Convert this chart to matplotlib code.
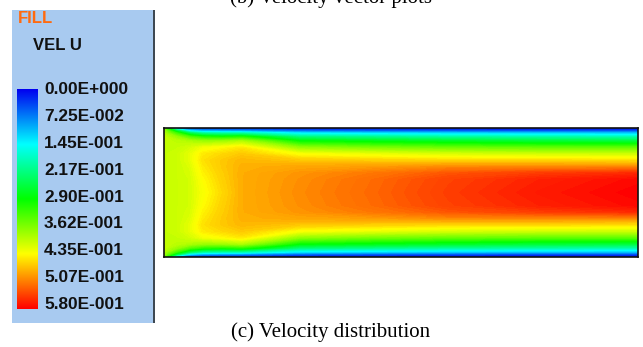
import matplotlib
matplotlib.use('Agg')
import matplotlib.pyplot as plt
import numpy as np
from matplotlib.colors import LinearSegmentedColormap
from matplotlib.patches import Rectangle

# legend labels (top -> bottom)
legend_values = [0.0, 0.0725, 0.145, 0.2175, 0.29, 0.3625, 0.435, 0.5075, 0.58]
legend_labels = ['0.00E+000', '7.25E-002', '1.45E-001', '2.17E-001', '2.90E-001',
                 '3.62E-001', '4.35E-001', '5.07E-001', '5.80E-001']

# velocity U: stations along the channel (in channel heights)
x_stations = [0.0, 0.1, 0.2, 0.3, 0.45, 0.6, 1.05, 1.6, 2.2, 2.9, 3.67]
# distance from the wall (fraction of channel height), wall -> centreline
wall_dist = [0.0, 0.02, 0.04, 0.07, 0.1, 0.15, 0.2, 0.25, 0.3, 0.35, 0.4, 0.5]
u_half = [
    [0.34, 0.38, 0.39, 0.40, 0.40, 0.40, 0.40, 0.40, 0.40, 0.40, 0.40, 0.40],
    [0.05, 0.24, 0.32, 0.375, 0.395, 0.40, 0.405, 0.405, 0.405, 0.405, 0.405, 0.405],
    [0.0, 0.12, 0.24, 0.335, 0.385, 0.41, 0.42, 0.42, 0.415, 0.412, 0.41, 0.41],
    [0.0, 0.09, 0.20, 0.31, 0.375, 0.425, 0.445, 0.45, 0.445, 0.44, 0.435, 0.43],
    [0.0, 0.08, 0.19, 0.30, 0.375, 0.435, 0.455, 0.465, 0.465, 0.462, 0.46, 0.455],
    [0.0, 0.075, 0.19, 0.31, 0.385, 0.445, 0.465, 0.475, 0.478, 0.48, 0.48, 0.48],
    [0.0, 0.05, 0.135, 0.22, 0.285, 0.37, 0.43, 0.465, 0.485, 0.495, 0.498, 0.50],
    [0.0, 0.045, 0.125, 0.21, 0.275, 0.355, 0.42, 0.46, 0.49, 0.51, 0.518, 0.52],
    [0.0, 0.04, 0.12, 0.20, 0.265, 0.345, 0.41, 0.455, 0.50, 0.53, 0.542, 0.545],
    [0.0, 0.035, 0.115, 0.195, 0.255, 0.34, 0.405, 0.455, 0.50, 0.545, 0.56, 0.565],
    [0.0, 0.035, 0.11, 0.19, 0.25, 0.34, 0.405, 0.45, 0.50, 0.555, 0.575, 0.58],
]

W, H = 643, 347
fig = plt.figure(figsize=(W / 100, H / 100), dpi=100)

def box(x0, y0, x1, y1):
    # pixel box -> figure fraction [left, bottom, width, height]
    return [x0 / W, 1 - y1 / H, (x1 - x0) / W, (y1 - y0) / H]

cmap = LinearSegmentedColormap.from_list(
    'vel', ['#0000f0', '#00ffff', '#00ff00', '#ffff00', '#ff0000'])
vmin, vmax = legend_values[0], legend_values[-1]

# legend panel (behind the axes)
b = box(12, 10, 155, 323)
fig.patches.append(Rectangle((b[0], b[1]), b[2], b[3], transform=fig.transFigure,
                             facecolor='#a8caf0', edgecolor='none', zorder=-2))
b = box(153, 10, 155, 323)
fig.patches.append(Rectangle((b[0], b[1]), b[2], b[3], transform=fig.transFigure,
                             facecolor='#3e4852', edgecolor='none', zorder=-1))

fig.text(18 / W, 1 - 18.5 / H, 'FILL', color='#ff6a10', fontsize=12,
         family='Liberation Sans', fontweight='bold', va='center', ha='left')
fig.text(33 / W, 1 - 46 / H, 'VEL U', color='#111111', fontsize=12,
         family='Liberation Sans', fontweight='bold', va='center', ha='left')

# colour bar
cax = fig.add_axes(box(17, 89, 38, 309))
grad = np.linspace(vmin, vmax, 256).reshape(-1, 1)
cax.imshow(grad, cmap=cmap, vmin=vmin, vmax=vmax, aspect='auto',
           extent=[0, 1, vmax, vmin])
cax.set_ylim(vmax, vmin)
cax.set_xticks([])
cax.set_yticks([])
for s in cax.spines.values():
    s.set_visible(False)

# labels next to the bar
lax = fig.add_axes(box(30, 88, 38, 303))
lax.set_ylim(vmax, vmin)
lax.set_xticks([])
lax.yaxis.tick_right()
lax.set_yticks(legend_values)
lax.set_yticklabels(legend_labels, fontsize=12.4, family='Liberation Sans',
                    fontweight='bold', color='#111111')
lax.tick_params(axis='y', length=0, pad=4.3)
lax.patch.set_visible(False)
for s in lax.spines.values():
    s.set_visible(False)

# velocity field
ax = fig.add_axes(box(164, 128, 638, 257))
xs = np.array(x_stations)
d = np.array(wall_dist)
u = np.array(u_half)
ys = np.concatenate([d, 1 - d[-2::-1]])
uu = np.concatenate([u, u[:, -2::-1]], axis=1)
X, Y = np.meshgrid(xs, ys, indexing='ij')
ax.contourf(X, Y, uu, levels=np.linspace(vmin, vmax + 0.001, 140), cmap=cmap,
            vmin=vmin, vmax=vmax)
ax.set_xlim(xs[0], xs[-1])
ax.set_ylim(0, 1)
ax.set_xticks([])
ax.set_yticks([])
for s in ax.spines.values():
    s.set_color('#111111')
    s.set_linewidth(1.2)

# captions
fig.text(331 / W, 1 - 3 / H, '(b) Velocity vector plots', fontsize=15,
         family='Liberation Serif', ha='center', va='baseline')
fig.text(331 / W, 1 - 337 / H, '(c) Velocity distribution', fontsize=15,
         family='Liberation Serif', ha='center', va='baseline')

fig.savefig('out.png', dpi=100)
